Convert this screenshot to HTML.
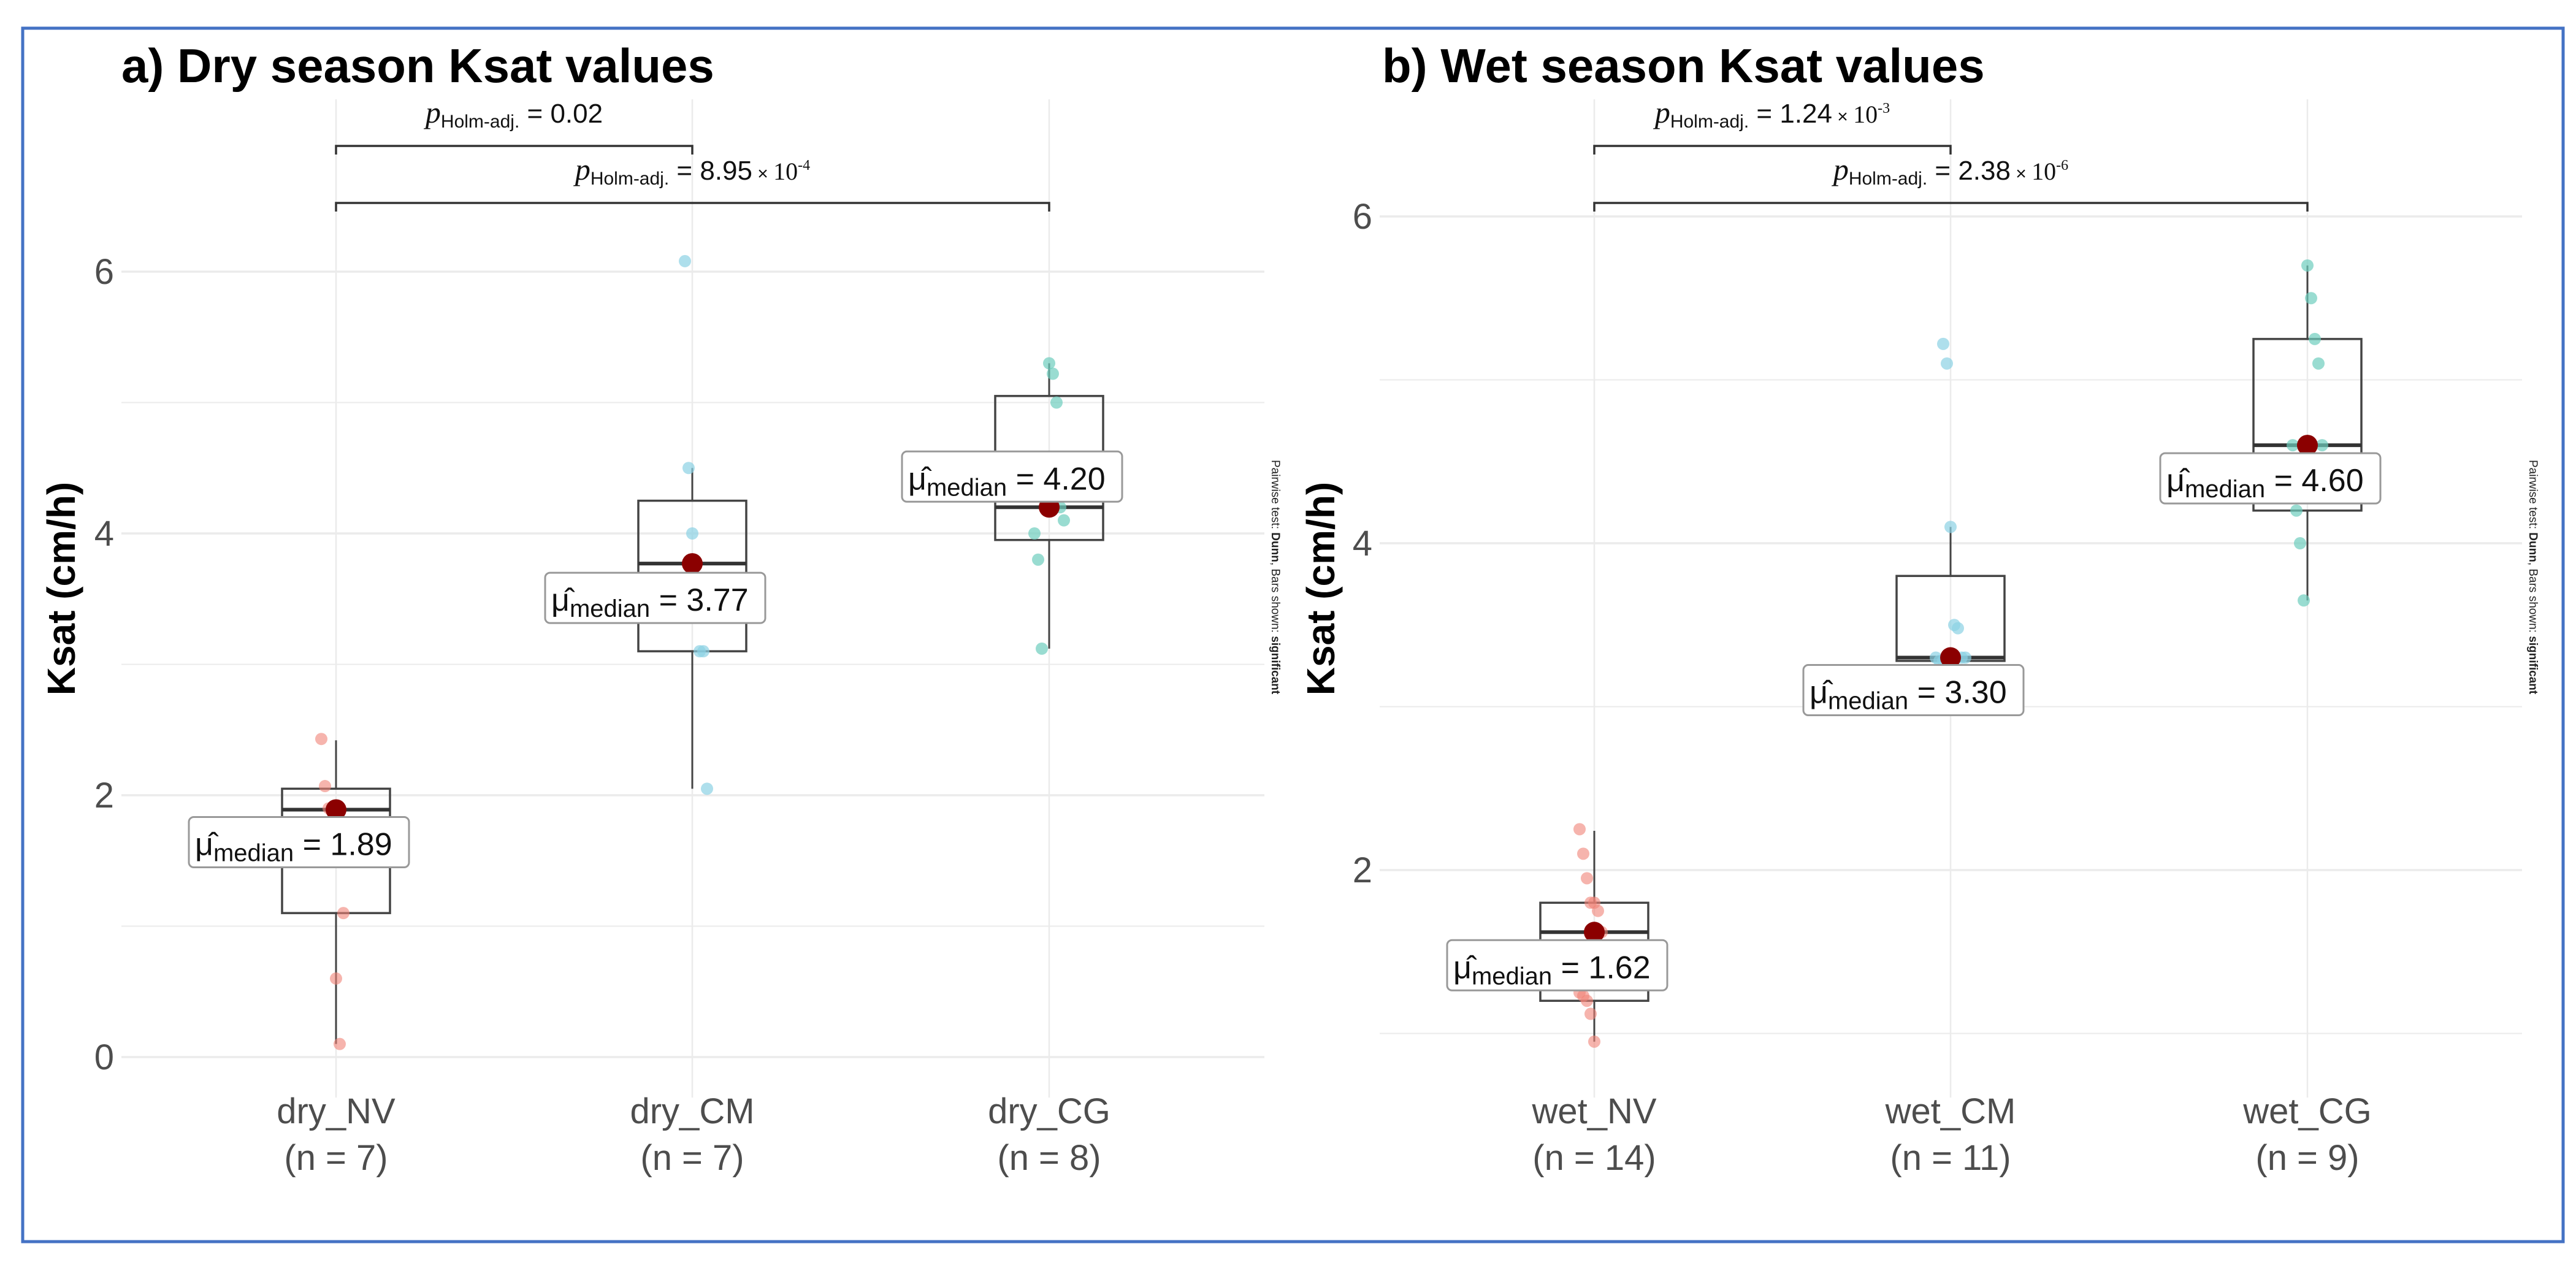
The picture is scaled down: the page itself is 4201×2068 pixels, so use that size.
<!DOCTYPE html>
<html><head><meta charset="utf-8"><style>
html,body{margin:0;padding:0;background:#fff;}
svg{display:block;font-family:"Liberation Sans",sans-serif;}
</style></head><body>
<svg id="chart" width="4201" height="2068" viewBox="0 0 4201 2068" xmlns="http://www.w3.org/2000/svg">
<rect x="37" y="46" width="4143" height="1979" fill="#fff" stroke="#4472c4" stroke-width="5"/>
<g id="panelA"></g>
<g id="panelB"></g>
</svg>
<script>
// ---- data ----
const dryCategories = ["dry_NV","dry_CM","dry_CG"];
const dryCounts = [7,7,8];
const dryPoints = [
  [2.43,2.07,1.9,1.88,0.6,0.1,1.1],
  [6.08,4.5,4.0,3.77,3.1,3.1,2.05],
  [5.3,5.22,5.0,4.2,4.1,4.0,3.8,3.12]
];
const dryQ1 = [1.1,3.1,3.95];
const dryMedian = [1.89,3.77,4.20];
const dryQ3 = [2.05,4.25,5.05];
const dryWhiskLo = [0.1,2.05,3.12];
const dryWhiskHi = [2.42,4.5,5.3];
const dryTicks = [0,2,4,6];
const dryPLabels = ["0.02","8.95"];
const dryPExp = ["","-4"];

const wetCategories = ["wet_NV","wet_CM","wet_CG"];
const wetCounts = [14,11,9];
const wetPoints = [
  [2.25,2.1,1.95,1.8,1.8,1.75,1.62,1.5,1.4,1.25,1.23,1.2,1.12,0.95],
  [5.22,5.1,4.1,3.5,3.48,3.3,3.3,3.3,3.28,3.28,3.28],
  [5.7,5.5,5.25,5.1,4.6,4.6,4.2,4.0,3.65]
];
const wetQ1 = [1.2,3.28,4.2];
const wetMedian = [1.62,3.30,4.60];
const wetQ3 = [1.8,3.8,5.25];
const wetWhiskLo = [0.95,3.28,3.65];
const wetWhiskHi = [2.24,4.1,5.7];
const wetTicks = [2,4,6];
const wetPLabels = ["1.24","2.38"];
const wetPExp = ["-3","-6"];

const NS="http://www.w3.org/2000/svg";
function mk(parent,tag,attrs){const e=document.createElementNS(NS,tag);for(const k in attrs)e.setAttribute(k,attrs[k]);parent.appendChild(e);return e;}

function drawPanel(g,cfg){
  const yS=v=>cfg.y0px-(v-cfg.y0)*cfg.ppu;
  const xS=i=>cfg.catX[i];
  for(let v=cfg.gMin; v<=cfg.gMax+1e-9; v+=1){
    const l=mk(g,'line',{x1:cfg.left,x2:cfg.right,y1:yS(v),y2:yS(v),stroke:'#ebebeb','stroke-width':(Math.round(v)%2===0)?3.5:2});
    
    
  }
  cfg.cats.forEach((c,i)=>{
    const l=mk(g,'line',{x1:xS(i),x2:xS(i),y1:cfg.top,y2:cfg.bottom,stroke:'#ebebeb','stroke-width':2.5});
    
    
  });
  const t=mk(g,'text',{x:cfg.titleX,y:134,'font-size':78,'font-weight':'bold',fill:'#000'});
  t.textContent=cfg.title;
  
  
  cfg.ticks.forEach(v=>{
    const tx=mk(g,'text',{x:cfg.left-12,y:yS(v)+20,'font-size':58,'text-anchor':'end',fill:'#4d4d4d'});
    tx.textContent=v;
    
    
  });
  const yt=mk(g,'text',{x:0,y:0,'font-size':64,'font-weight':'bold','text-anchor':'middle',transform:`translate(${cfg.yTitleX},${cfg.yTitleY}) rotate(-90)`});
  yt.textContent='Ksat (cm/h)';
  
  
  cfg.cats.forEach((c,i)=>{
    const a=mk(g,'text',{x:xS(i),y:1832,'font-size':58,'text-anchor':'middle',fill:'#4d4d4d'});
    a.textContent=c;
    
    
    const b=mk(g,'text',{x:xS(i),y:1908,'font-size':58,'text-anchor':'middle',fill:'#4d4d4d'});
    b.textContent='(n = '+cfg.counts[i]+')';
    
    
  });
  const hw=88;
  cfg.cats.forEach((c,i)=>{
    const x=xS(i);
    const bg=mk(g,'g',{});
    
    
    mk(bg,'line',{x1:x,x2:x,y1:yS(cfg.q3[i]),y2:yS(cfg.hi[i]),stroke:'#444','stroke-width':3});
    mk(bg,'line',{x1:x,x2:x,y1:yS(cfg.q1[i]),y2:yS(cfg.lo[i]),stroke:'#444','stroke-width':3});
    mk(bg,'rect',{x:x-hw,y:yS(cfg.q3[i]),width:2*hw,height:yS(cfg.q1[i])-yS(cfg.q3[i]),fill:'none',stroke:'#444','stroke-width':3.5});
    mk(bg,'line',{x1:x-hw,x2:x+hw,y1:yS(cfg.med[i]),y2:yS(cfg.med[i]),stroke:'#333','stroke-width':6});
  });
  cfg.cats.forEach((c,i)=>{
    cfg.pts[i].forEach((v,j)=>{
      const jit=(((j*37+i*11)%9)-4)*6;
      const p=mk(g,'circle',{cx:xS(i)+jit,cy:yS(v),r:10,fill:cfg.colors[i]});
      
      
    });
  });
  cfg.cats.forEach((c,i)=>{
    const x=xS(i), y=yS(cfg.med[i]);
    const d=mk(g,'circle',{cx:x,cy:y,r:17,fill:'#8b0000'});
    
    
    const ly=y+cfg.labOff[i];
    const lg=mk(g,'g',{});
    
    
    mk(lg,'rect',{x:x-240,y:ly,width:359,height:82,rx:8,fill:'#fff',stroke:'#999','stroke-width':3});
    const tx=mk(lg,'text',{x:x-230,y:ly+62,'font-size':52,fill:'#111'});
    const s1=mk(tx,'tspan',{}); s1.textContent='μ̂';
    const s2=mk(tx,'tspan',{'font-size':40,dy:10}); s2.textContent='median';
    const s3=mk(tx,'tspan',{dy:-10}); s3.textContent=' = '+cfg.med[i].toFixed(2);
  });
  const br=[[0,1,238],[0,2,331]];
  br.forEach((b,k)=>{
    const x1=xS(b[0]),x2=xS(b[1]),y=b[2];
    const bg=mk(g,'g',{});
    
    
    mk(bg,'path',{d:`M${x1},${y+14} V${y} H${x2} V${y+14}`,fill:'none',stroke:'#333','stroke-width':3.5});
    const tx=mk(bg,'text',{x:(x1+x2)/2,y:y-38,'font-size':44,'text-anchor':'middle',fill:'#111'});
    const a=mk(tx,'tspan',{'font-style':'italic','font-family':'Liberation Serif, serif','font-size':50}); a.textContent='p';
    const s=mk(tx,'tspan',{'font-size':30,dy:8}); s.textContent='Holm-adj.';
    const e=mk(tx,'tspan',{dy:-8}); e.textContent=' = '+cfg.pl[k];
    if(cfg.pe[k]){
      const m=mk(tx,'tspan',{'font-size':30}); m.textContent=' × ';
      const ten=mk(tx,'tspan',{'font-family':'Liberation Serif, serif','font-size':40}); ten.textContent='10';
      const ex=mk(tx,'tspan',{'font-size':24,dy:-16,'font-family':'Liberation Serif, serif'}); ex.textContent=cfg.pe[k];
    }
  });
  const cap=mk(g,'text',{x:0,y:0,'font-size':19,fill:'#222',transform:`translate(${cfg.capX},750) rotate(90)`});
  const c1=mk(cap,'tspan',{}); c1.textContent='Pairwise test: ';
  const c2=mk(cap,'tspan',{'font-weight':'bold'}); c2.textContent='Dunn';
  const c3=mk(cap,'tspan',{}); c3.textContent=', Bars shown: ';
  const c4=mk(cap,'tspan',{'font-weight':'bold'}); c4.textContent='significant';
  
  
}

drawPanel(document.getElementById('panelA'),{
  title:'a) Dry season Ksat values',titleX:198,cats:dryCategories,counts:dryCounts,pts:dryPoints,
  q1:dryQ1,med:dryMedian,q3:dryQ3,lo:dryWhiskLo,hi:dryWhiskHi,ticks:dryTicks,pl:dryPLabels,pe:dryPExp,
  y0:0,y0px:1724,ppu:213.5,gMin:0,gMax:6,left:198,right:2062,top:162,bottom:1790,
  catX:[548,1129,1711],yTitleX:122,yTitleY:960,capX:2074,
  colors:['rgba(240,130,118,0.6)','rgba(140,210,228,0.7)','rgba(110,205,190,0.7)'],
  labOff:[12,15,-91]
});
drawPanel(document.getElementById('panelB'),{
  title:'b) Wet season Ksat values',titleX:2254,cats:wetCategories,counts:wetCounts,pts:wetPoints,
  q1:wetQ1,med:wetMedian,q3:wetQ3,lo:wetWhiskLo,hi:wetWhiskHi,ticks:wetTicks,pl:wetPLabels,pe:wetPExp,
  y0:4,y0px:886,ppu:266.5,gMin:1,gMax:6,left:2250,right:4113,top:162,bottom:1790,
  catX:[2600,3181,3763],yTitleX:2176,yTitleY:960,capX:4125,
  colors:['rgba(240,130,118,0.6)','rgba(140,210,228,0.7)','rgba(110,205,190,0.7)'],
  labOff:[13,12,13]
});
</script>
</body></html>
